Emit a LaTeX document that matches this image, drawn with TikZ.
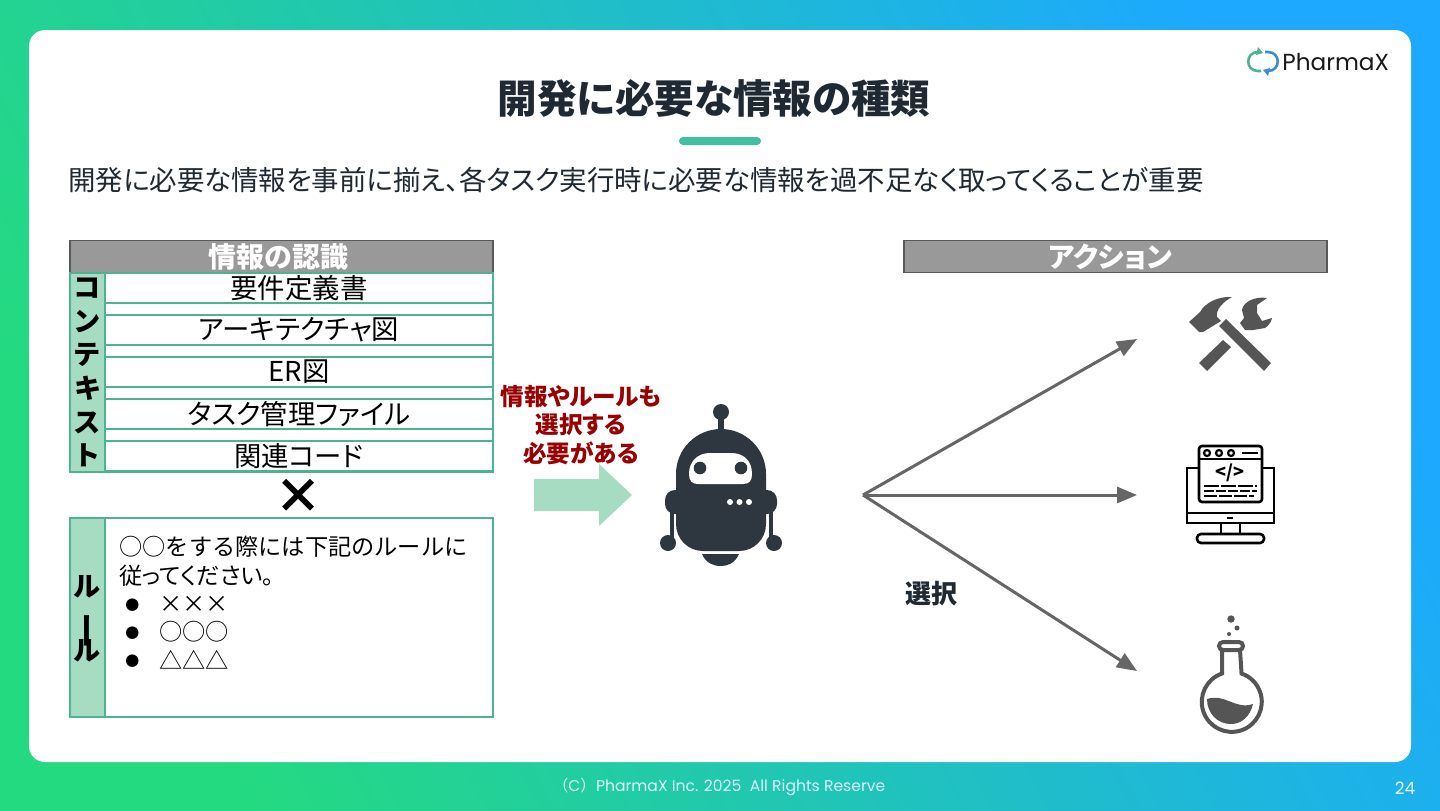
\documentclass[tikz,border=0pt]{standalone}
\usepackage{fontspec}
\setmainfont[RawFeature=+palt]{Noto Sans CJK JP}
\newfontfamily\poppins{Poppins}
\newfontfamily\jpfont{Noto Sans CJK JP}
\usetikzlibrary{arrows.meta,positioning}
\definecolor{skygreen}{HTML}{24DA80}
\definecolor{skymid}{HTML}{1FC9B8}
\definecolor{skyblue}{HTML}{1CA9FF}
\definecolor{bandgreen}{HTML}{A6DCC2}
\definecolor{bandline}{HTML}{4DB392}
\definecolor{headgray}{HTML}{999999}
\definecolor{robotdark}{HTML}{2E3740}
\definecolor{icondark}{HTML}{555555}
\definecolor{titledark}{HTML}{1F2933}
\definecolor{warnred}{HTML}{990000}
\newcommand{\rulebullet}{\makebox[20pt][l]{\hspace{3pt}\raisebox{1.2pt}{\fontsize{7}{7}\selectfont ●}}}

\begin{document}
\begin{tikzpicture}[
  x=0.5pt, y=-0.5pt,
  >={Triangle[length=10pt,width=8pt]},
  headbox/.style={draw=black!65, fill=headgray, line width=0.6pt, minimum width=211.5pt, minimum height=16pt, inner sep=0pt, outer sep=0pt, text=white, font=\fontsize{14}{14}\selectfont\bfseries},
  rowbox/.style={draw=bandline, line width=0.6pt, fill=white, minimum width=194pt, minimum height=15pt, inner sep=0pt, outer sep=0pt, font=\fontsize{13.7}{14}\selectfont},
  sideband/.style={draw=bandline, line width=0.6pt, fill=bandgreen, minimum width=17.5pt, minimum height=99.5pt, inner sep=0pt, outer sep=0pt, align=center, font=\fontsize{13.6}{16.8}\selectfont\bfseries},
  choice/.style={->, draw=black!60, line width=1.5pt},
  iconline/.style={draw=black, line width=1.3pt, fill=white}
]
\useasboundingbox (0,0) rectangle (1440,810);
\shade[left color=skygreen, middle color=skymid, right color=skyblue, shading angle=118] (0,0) rectangle (1440,810);
\fill[white, rounded corners=8pt] (29,30) rectangle (1411,762);

\node[font=\fontsize{19.8}{20}\selectfont\bfseries, text=titledark] (title) at (714,98) {開発に必要な情報の種類};
\fill[bandline!85!cyan, rounded corners=2pt] (679,137) rectangle (761,145);
\node[font=\fontsize{13.72}{14}\selectfont, text=titledark, anchor=west, inner sep=0pt] (lead) at (68,180) {開発に必要な情報を事前に揃え、各タスク実行時に必要な情報を過不足なく取ってくることが重要};

\node[font=\poppins\fontsize{11.6}{14}\selectfont, text=black!90, anchor=west, inner sep=0pt] (logo) at (1282,62) {PharmaX};
\draw[bandline, line width=1.3pt] (1260,52) -- (1258,52) .. controls (1245,52) and (1245,71) .. (1258,71) -- (1261,71);
\fill[bandline] (1258,47) -- (1263,53) -- (1256,55) -- cycle;
\draw[cyan!60!blue!80, line width=1.3pt] (1266,71) -- (1268,71) .. controls (1281,71) and (1281,52) .. (1268,52) -- (1265,52);
\fill[cyan!60!blue!80] (1268,76) -- (1263,70) -- (1270,68) -- cycle;

\node[headbox] (info) at (281.5,256.5) {情報の認識\hspace*{3pt}};
\node[headbox] (action) at (1115.5,256.5) {アクション\hspace*{5pt}};

\draw[bandline, line width=0.6pt] (70,273) rectangle (493,472);
\node[rowbox] (spec) at (299,288) {要件定義書};
\node[rowbox, below=6pt of spec] (arch) {アーキテクチャ図};
\node[rowbox, below=6pt of arch] (er) {ER図};
\node[rowbox, below=6pt of er] (task) {タスク管理ファイル};
\node[rowbox, below=6pt of task] (code) {関連コード};
\node[sideband] (context) at (87.5,372.5) {\raisebox{-0.5pt}{コ}\\\raisebox{-0.5pt}{ン}\\\raisebox{-0.5pt}{テ}\\\raisebox{-0.5pt}{キ}\\\raisebox{-0.5pt}{ス}\\\raisebox{-0.5pt}{ト}};

\node[font=\fontsize{24}{24}\selectfont\bfseries, inner sep=0pt] (times) at (298,496) {×};

\node[rowbox, minimum height=99.5pt] (rulebox) at (299,617.5) {};
\node[sideband, font=\fontsize{13.6}{16.25}\selectfont\bfseries] (rule) at (87.5,617.5) {\smash{\raisebox{-5.5pt}{ル}}\\\hspace*{-4pt}\smash{\raisebox{-1pt}{\rotatebox{-90}{\hspace*{-3pt}\scalebox{1.35}[1]{ー}}}}\\\smash{\raisebox{-5pt}{ル}}};
\node[anchor=north west, inner sep=0pt, align=left, font=\fontsize{11.6}{14.15}\selectfont] (ruletext) at (119,536) {{\jpfont ○○をする際には下記のルールに}\\従ってください。\\\rulebullet ×××\\\rulebullet {\jpfont ○○○}\\\rulebullet △△△};

\fill[bandgreen] (534,479) -- (599,479) -- (599,464) -- (632,495) -- (599,526) -- (599,511) -- (534,511) -- cycle;
\node[align=center, text=warnred, font=\fontsize{11.8}{14.25}\selectfont\bfseries, inner sep=0pt] (warn) at (581,425) {情報やルールも\\選択する\\必要がある};

\fill[robotdark] (721,412) circle[radius=8];
\fill[robotdark] (718,418) rectangle (724,430);
\fill[robotdark] (676,474) arc[start angle=180, end angle=360, radius=45] -- (766,524) .. controls (766,539) and (754,551) .. (739,551) -- (703,551) .. controls (688,551) and (676,539) .. (676,524) -- cycle;
\fill[robotdark, rounded corners=5pt] (665,514) -- (665,490) -- (777,490) -- (777,514) -- cycle;
\fill[robotdark] (669.5,510) rectangle (673.5,540);
\fill[robotdark] (768.5,510) rectangle (772.5,540);
\fill[robotdark] (668,543) circle[radius=8];
\fill[robotdark] (774,543) circle[radius=8];
\fill[robotdark] (702,554) -- (739,554) .. controls (735,563) and (728,566) .. (721,566) .. controls (713,566) and (706,563) .. (702,554) -- cycle;
\fill[white] (689,474) .. controls (689,461) and (698,453) .. (710,453) -- (731,453) .. controls (744,453) and (752,461) .. (752,474) .. controls (752,481) and (749,484) .. (743,484) -- (698,484) .. controls (692,484) and (689,481) .. (689,474) -- cycle;
\fill[robotdark] (700,468) circle[radius=6.3];
\fill[robotdark] (741,468) circle[radius=6.3];
\fill[white] (730,502) circle[radius=3];
\fill[white] (739.5,502) circle[radius=3];
\fill[white] (749,502) circle[radius=3];

\coordinate (hub) at (863,495);
\coordinate (tools) at (1137,339);
\coordinate (screen) at (1137,495);
\coordinate (flask) at (1137,671);
\draw[choice] (hub) -- (tools);
\draw[choice] (hub) -- (screen);
\draw[choice] (hub) -- (flask);
\node[font=\fontsize{13}{14}\selectfont\bfseries, text=titledark, inner sep=0pt] (select) at (931,594) {選択};

\fill[icondark] (1189,322) -- (1200,312) .. controls (1205,303) and (1218,296) .. (1232,297) .. controls (1224,301) and (1215,310) .. (1217,317) -- (1221,321) -- (1203,332) -- (1199,332) -- cycle;
\fill[icondark] (1226,319) -- (1271,363) -- (1264,371) -- (1219,326) -- cycle;
\fill[icondark] (1223,340) -- (1231,347) -- (1207,371) -- (1199,363) -- cycle;
\fill[icondark] (1240,323) -- (1244,318) -- (1242,310) .. controls (1243,302) and (1255,296) .. (1267,298) -- (1257,305) -- (1257,313) -- (1262,321) -- (1272,318) .. controls (1271,323) and (1268,326) .. (1265,328) -- (1253,330) -- (1245,330) -- cycle;

\draw[iconline] (1187,468) rectangle (1274,523);
\draw[iconline] (1187,513) -- (1274,513);
\draw[iconline, rounded corners=1.5pt] (1199,446) rectangle (1262,502);
\draw[iconline] (1199,459) -- (1262,459);
\draw[line width=1.1pt] (1207,453) circle[radius=3];
\draw[line width=1.1pt] (1219,453) circle[radius=3];
\draw[line width=1.1pt] (1231,453) circle[radius=3];
\draw[line width=1.1pt] (1242,453) -- (1258,453);
\node[font=\fontsize{9}{9}\selectfont\bfseries, inner sep=0pt] (tag) at (1230,473) {</>};
\draw[line width=1.2pt, dash pattern=on 7.5pt off 1pt] (1204,486) -- (1257,486);
\draw[line width=1.2pt, dash pattern=on 5pt off 1pt] (1204,491) -- (1257,491);
\draw[line width=1.2pt, dash pattern=on 6.5pt off 1pt] (1204,496) -- (1254,496);
\draw[line width=1.2pt] (1227,518) -- (1233,518);
\draw[line width=1.3pt] (1221,523) -- (1221,534);
\draw[line width=1.3pt] (1240,523) -- (1240,534);
\draw[line width=1.3pt, rounded corners=2pt] (1197,534) rectangle (1264,543);

\fill[icondark] (1231,619) circle[radius=3.7];
\fill[icondark] (1237,628) circle[radius=2.5];
\fill[icondark] (1229,634) circle[radius=2];
\draw[icondark, line width=2pt] (1222,650) -- (1222,673.5) arc[start angle=251, end angle=-71, radius=30] -- (1240,650);
\draw[icondark, line width=2pt, rounded corners=2pt] (1219,642) rectangle (1243,650);
\fill[icondark] (1207,699) .. controls (1225,693) and (1235,710) .. (1253,704) .. controls (1250,717) and (1241,724) .. (1231,724) .. controls (1217,724) and (1207,713) .. (1207,699) -- cycle;

\node[font=\poppins\fontsize{7.8}{9}\selectfont, text=white!85!cyan, inner sep=0pt] (footer) at (719,787) {{\jpfont （}C{\jpfont ）}PharmaX Inc. 2025 \ All Rights Reserve};
\node[font=\poppins\fontsize{8.5}{9}\selectfont, text=white!90!cyan, inner sep=0pt] (page) at (1405,788) {24};
\end{tikzpicture}
\end{document}
